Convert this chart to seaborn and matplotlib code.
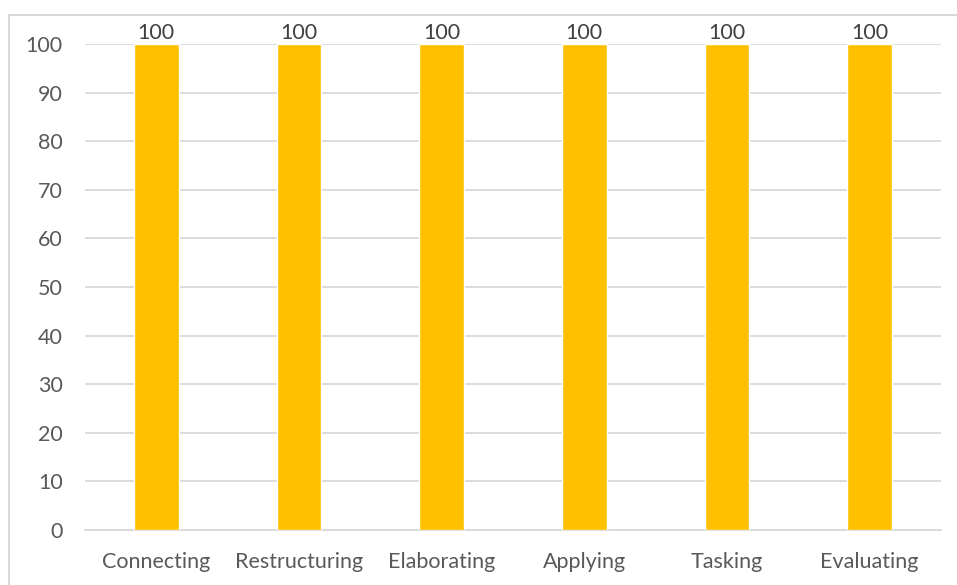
import matplotlib
matplotlib.use("Agg")
import matplotlib.pyplot as plt
import seaborn as sns
import pandas as pd
from matplotlib.patches import Rectangle

categories = ["Connecting", "Restructuring", "Elaborating", "Applying", "Tasking", "Evaluating"]
values = [100, 100, 100, 100, 100, 100]
yticks = [0, 10, 20, 30, 40, 50, 60, 70, 80, 90, 100]

df = pd.DataFrame({"category": categories, "value": values})

sns.set_style("white")
plt.rcParams["font.family"] = ["Lato", "DejaVu Sans"]

W, H = 957, 585
fig = plt.figure(figsize=(W / 100, H / 100), dpi=100)
ax = fig.add_axes([85 / W, 1 - 530 / H, (941 - 85) / W, (530 - 44) / H])

sns.barplot(data=df, x="category", y="value", color="#FFC000", width=0.315,
            saturation=1, ax=ax, zorder=3)

ax.set_ylim(0, 100)
ax.set_xlim(-0.5, len(categories) - 0.5)
ax.set_yticks(yticks)
ax.set_yticklabels([str(t) for t in yticks])
ax.yaxis.grid(True, color="#D9D9D9", linewidth=1.3, zorder=0)
ax.set_axisbelow(True)
for side in ["top", "right", "left"]:
    ax.spines[side].set_visible(False)
ax.spines["bottom"].set_color("#D9D9D9")
ax.spines["bottom"].set_linewidth(1.3)
ax.tick_params(axis="both", length=0, labelsize=15.5, colors="#595959")
ax.tick_params(axis="x", pad=16)
ax.tick_params(axis="y", pad=16)
ax.set_xlabel("")
ax.set_ylabel("")

for i, v in enumerate(values):
    ax.text(i, v + 0.2, str(v), ha="center", va="bottom", fontsize=15.5, color="#404040")

# outer chart border (cropped on right and bottom)
fig.patches.append(Rectangle((9 / W, -0.1), 1.2, 1.1 - 15 / H, transform=fig.transFigure,
                             fill=False, edgecolor="#D9D9D9", linewidth=1.5))

fig.savefig("out.png", dpi=100)
